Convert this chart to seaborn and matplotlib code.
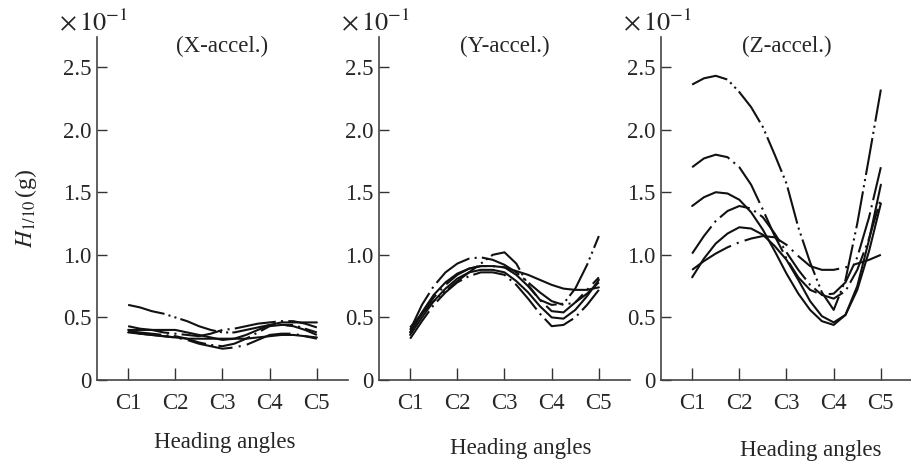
import matplotlib
matplotlib.use("Agg")
import matplotlib.pyplot as plt
import pandas as pd
import seaborn as sns

# Heading-angle stations (quarter steps between C1..C5)
heading = [1.0, 1.25, 1.5, 1.75, 2.0, 2.25, 2.5, 2.75, 3.0,
           3.25, 3.5, 3.75, 4.0, 4.25, 4.5, 4.75, 5.0]
tick_pos = [1, 2, 3, 4, 5]
tick_labels = ["C1", "C2", "C3", "C4", "C5"]

# H1/10 significant acceleration (x 10^-1 g), one list per condition
x_a = [0.60, 0.58, 0.55, 0.53, 0.50, 0.47, 0.43, 0.40, 0.38, 0.38, 0.40, 0.42, 0.44, 0.44, 0.43, 0.40, 0.36]
x_b = [0.43, 0.41, 0.40, 0.38, 0.37, 0.36, 0.35, 0.37, 0.40, 0.41, 0.43, 0.45, 0.46, 0.47, 0.47, 0.45, 0.42]
x_c = [0.40, 0.40, 0.40, 0.40, 0.40, 0.38, 0.36, 0.34, 0.32, 0.33, 0.36, 0.40, 0.44, 0.46, 0.46, 0.46, 0.46]
x_d = [0.39, 0.38, 0.37, 0.36, 0.35, 0.33, 0.30, 0.28, 0.27, 0.29, 0.33, 0.38, 0.43, 0.44, 0.44, 0.41, 0.38]
x_e = [0.38, 0.37, 0.36, 0.35, 0.34, 0.33, 0.33, 0.33, 0.33, 0.33, 0.33, 0.34, 0.35, 0.36, 0.36, 0.35, 0.34]
x_f = [0.39, 0.37, 0.36, 0.35, 0.34, 0.32, 0.29, 0.27, 0.25, 0.26, 0.28, 0.32, 0.36, 0.37, 0.37, 0.35, 0.33]

y_a = [0.42, 0.53, 0.63, 0.71, 0.79, 0.86, 0.93, 1.00, 1.02, 0.93, 0.76, 0.64, 0.60, 0.61, 0.73, 0.92, 1.15]
y_b = [0.40, 0.60, 0.75, 0.86, 0.93, 0.97, 0.98, 0.96, 0.92, 0.86, 0.78, 0.70, 0.63, 0.60, 0.62, 0.69, 0.78]
y_c = [0.38, 0.54, 0.68, 0.78, 0.85, 0.89, 0.91, 0.91, 0.90, 0.87, 0.84, 0.80, 0.76, 0.73, 0.72, 0.72, 0.74]
y_d = [0.33, 0.47, 0.60, 0.70, 0.78, 0.83, 0.86, 0.86, 0.84, 0.76, 0.65, 0.53, 0.43, 0.44, 0.50, 0.60, 0.72]
y_e = [0.36, 0.50, 0.63, 0.73, 0.81, 0.86, 0.88, 0.88, 0.86, 0.79, 0.70, 0.59, 0.50, 0.49, 0.56, 0.67, 0.80]
y_f = [0.38, 0.53, 0.66, 0.76, 0.84, 0.89, 0.91, 0.91, 0.90, 0.84, 0.75, 0.64, 0.55, 0.54, 0.62, 0.72, 0.82]

z_a = [2.36, 2.41, 2.43, 2.40, 2.30, 2.18, 2.02, 1.80, 1.57, 1.22, 0.94, 0.70, 0.56, 0.80, 1.25, 1.78, 2.32]
z_b = [1.70, 1.77, 1.80, 1.78, 1.70, 1.56, 1.36, 1.15, 0.97, 0.82, 0.72, 0.68, 0.69, 0.78, 0.98, 1.30, 1.70]
z_c = [1.39, 1.46, 1.50, 1.49, 1.44, 1.34, 1.20, 1.03, 0.85, 0.69, 0.56, 0.47, 0.44, 0.52, 0.75, 1.12, 1.56]
z_d = [1.01, 1.15, 1.27, 1.35, 1.39, 1.37, 1.30, 1.17, 1.02, 0.88, 0.76, 0.68, 0.65, 0.71, 0.88, 1.13, 1.45]
z_e = [0.82, 0.97, 1.09, 1.17, 1.22, 1.21, 1.16, 1.07, 0.96, 0.80, 0.63, 0.51, 0.46, 0.52, 0.72, 1.03, 1.41]
z_f = [0.88, 0.95, 1.01, 1.06, 1.10, 1.13, 1.15, 1.14, 1.08, 0.99, 0.91, 0.88, 0.88, 0.90, 0.93, 0.96, 1.00]

panel_titles = ["(X-accel.)", "(Y-accel.)", "(Z-accel.)"]
panel_series = [
    [x_a, x_b, x_c, x_d, x_e, x_f],
    [y_a, y_b, y_c, y_d, y_e, y_f],
    [z_a, z_b, z_c, z_d, z_e, z_f],
]

# line styles: long dash-dot-dot, long dash-dot, solid, dash-dot, solid, dash-dot
styles = [
    (0, (18, 2, 1, 2, 1, 2)),
    (0, (20, 2.5, 1, 2.5)),
    "-",
    (0, (16, 2.5, 1, 2.5)),
    "-",
    (0, (22, 3, 1, 3)),
]

sns.set_style("ticks")
plt.rcParams["font.family"] = ["Liberation Serif", "DejaVu Serif"]
plt.rcParams["mathtext.fontset"] = "stix"

fig = plt.figure(figsize=(9.12, 4.65), dpi=100)
lefts = [97 / 912, 379 / 912, 661 / 912]
width = 251 / 912
bottom = 1 - 380 / 465
height = (380 - 37) / 465
label_x = [0.51, 0.564, 0.598]
label_y = [-0.183, -0.200, -0.205]
fs = 16.5

for i in range(3):
    ax = fig.add_axes([lefts[i], bottom, width, height])
    for vals, ls in zip(panel_series[i], styles):
        df = pd.DataFrame({"heading": heading, "H": vals})
        sns.lineplot(data=df, x="heading", y="H", ax=ax, color="#111111",
                     linewidth=1.5, linestyle=ls, sort=False)
    ax.set_xlim(0.34, 5.66)
    ax.set_ylim(0, 2.74)
    ax.set_xticks(tick_pos)
    ax.set_xticklabels(tick_labels)
    ax.set_yticks([0, 0.5, 1.0, 1.5, 2.0, 2.5])
    ax.set_yticklabels(["0", "0.5", "1.0", "1.5", "2.0", "2.5"])
    ax.tick_params(axis="x", direction="in", length=9, width=1.0,
                   pad=9, labelsize=fs, color="#333333")
    ax.tick_params(axis="y", direction="in", length=7, width=1.0,
                   pad=4, labelsize=fs, color="#333333")
    for side in ("top", "right"):
        ax.spines[side].set_visible(False)
    for side in ("left", "bottom"):
        ax.spines[side].set_color("#444444")
        ax.spines[side].set_linewidth(1.2)
    ax.set_xlabel("")
    ax.set_ylabel("")
    ax.text(0.5, 0.972, panel_titles[i], transform=ax.transAxes,
            ha="center", va="center", fontsize=fs)
    ax.text(-0.152, 1.018, r"$\times\,10^{-1}$", transform=ax.transAxes,
            ha="left", va="baseline", fontsize=19)
    ax.text(label_x[i], label_y[i], "Heading angles", transform=ax.transAxes,
            ha="center", va="center", fontsize=fs)
    if i == 0:
        ax.set_ylabel(r"$H_{1/10}\,$(g)", fontsize=17, labelpad=17)

fig.savefig("out.png", dpi=100, facecolor="white")
